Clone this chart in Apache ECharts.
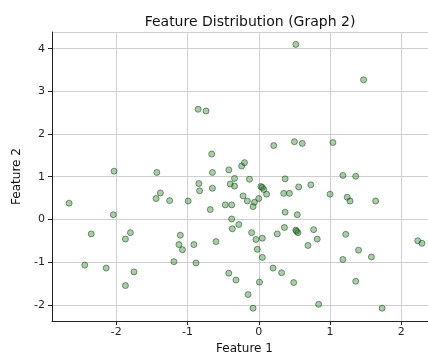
<!DOCTYPE html>
<html>
<head>
<meta charset="utf-8">
<script src="https://cdn.jsdelivr.net/npm/echarts@6/dist/echarts.min.js"></script>
<style>html,body{margin:0;padding:0;background:#fff;}#c{width:428px;height:352px;}</style>
</head>
<body>
<div id="c"></div>
<script>
const featureX = [0.52,1.47,-0.85,-0.74,-2.66,-2.03,-2.04,-1.43,-1.44,-1.38,-1.25,-0.99,-0.84,-0.83,-0.68,-0.66,-0.65,-0.65,-0.42,-0.24,-0.20,-0.13,-0.34,-0.40,-0.34,0.03,0.07,0.11,0.21,0.50,0.61,1.04,1.18,1.36,0.37,0.00,-0.06,-0.08,-0.16,-0.22,-0.47,-0.38,-0.38,-0.37,-0.28,0.35,0.43,0.56,0.73,0.37,0.54,0.36,0.52,0.55,0.77,1.00,1.24,1.28,1.64,-0.10,-0.04,-0.02,-1.10,-1.12,-1.07,-0.91,-0.60,-1.19,-0.88,-2.35,-1.80,-1.87,-2.44,-2.14,-1.75,-1.87,0.26,0.82,0.69,1.22,0.05,0.05,1.18,1.40,1.58,1.36,2.23,2.29,-0.42,-0.32,0.01,0.20,0.32,0.49,-0.15,-0.08,0.84,1.73,0.53,0.05];
const featureY = [4.10,3.27,2.58,2.54,0.38,1.13,0.11,1.10,0.49,0.62,0.44,0.43,0.84,0.67,0.23,1.53,1.10,0.73,1.16,1.25,1.33,0.94,0.96,0.83,0.78,0.77,0.70,0.59,1.73,1.82,1.78,1.80,1.03,1.01,0.95,0.49,0.40,0.30,0.43,0.55,0.34,0.34,0.01,-0.22,-0.12,0.61,0.61,0.76,0.81,0.17,0.11,-0.19,-0.25,-0.31,-0.24,0.59,0.52,0.43,0.43,-0.31,-0.47,-0.70,-0.37,-0.59,-0.71,-0.59,-0.52,-0.99,-1.02,-0.34,-0.31,-0.46,-1.07,-1.14,-1.23,-1.55,-0.34,-0.46,-0.61,-0.35,-0.44,-0.89,-0.94,-0.72,-0.88,-1.45,-0.50,-0.56,-1.26,-1.42,-1.47,-1.14,-1.25,-1.48,-1.76,-2.08,-1.99,-2.08,-0.28,0.75];
const titleText = "Feature Distribution (Graph 2)";
const xName = "Feature 1";
const yName = "Feature 2";

const pts = featureX.map((x, i) => [x, featureY[i]]);
const font = "DejaVu Sans";
const chart = echarts.init(document.getElementById('c'), null, {renderer: 'canvas'});
const axisCommon = {
  axisLine: {show: true, onZero: false, lineStyle: {color: '#222', width: 1}},
  axisTick: {show: true, inside: false, length: 4, lineStyle: {color: '#222', width: 1}},
  axisLabel: {color: '#222', fontFamily: font, fontSize: 11, showMinLabel: false, showMaxLabel: false},
  splitLine: {show: true, lineStyle: {color: '#cfcfcf', width: 1}},
  nameLocation: 'middle',
  nameTextStyle: {color: '#111', fontFamily: font, fontSize: 12}
};
chart.setOption({
  animation: false,
  backgroundColor: '#fff',
  title: {text: titleText, left: 245, top: 10, textAlign: 'center',
    textStyle: {fontFamily: font, fontSize: 14, fontWeight: 'normal', color: '#111'}},
  grid: {left: 52, top: 32, width: 385, height: 289, containLabel: false, outerBoundsMode: 'none'},
  xAxis: Object.assign({}, axisCommon, {type: 'value', min: -2.9, max: 2.5, name: xName, nameGap: 20,
    axisLabel: Object.assign({}, axisCommon.axisLabel, {margin: 6})}),
  yAxis: Object.assign({}, axisCommon, {type: 'value', min: -2.38, max: 4.39, name: yName, nameGap: 26,
    axisLabel: Object.assign({}, axisCommon.axisLabel, {margin: 7})}),
  series: [{
    type: 'scatter', data: pts, symbolSize: 6,
    itemStyle: {color: 'rgba(40,130,40,0.5)', borderColor: 'rgba(20,60,20,0.65)', borderWidth: 1}
  }]
});
</script>
</body>
</html>
